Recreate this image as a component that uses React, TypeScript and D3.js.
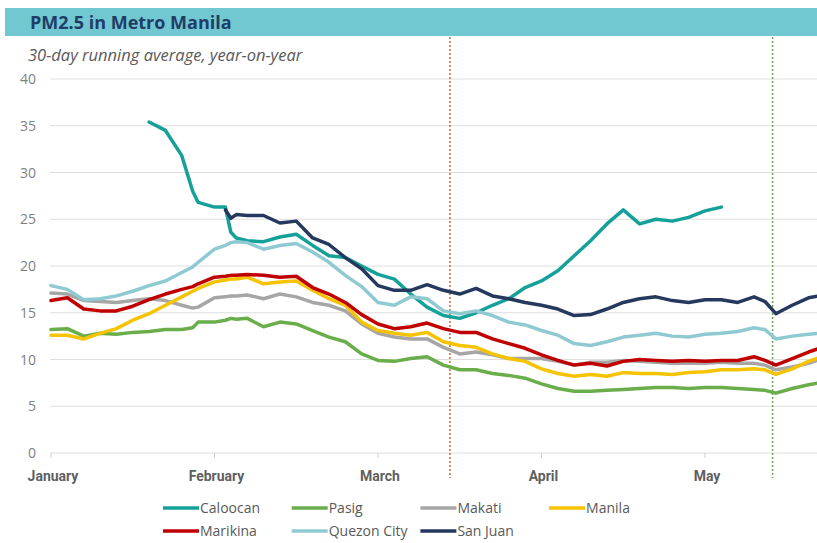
import React, { useEffect, useRef } from "react";
import { line, scaleLinear, select, Selection } from "d3";

const WIDTH = 817;
const HEIGHT = 543;
const PLOT_LEFT = 51;
const PLOT_RIGHT = 817;
const PLOT_TOP = 79;
const PLOT_BOTTOM = 453;
const STROKE_WIDTH = 3.5;
const FONT = "'Open Sans', 'Noto Sans', sans-serif";

// day index since Jan 1 (one month label every 30 days on the axis)
const DAYS = [
    0, 3, 6, 9, 12, 15, 18, 21, 24, 26, 27, 30, 32, 33, 34, 36, 39, 42, 45, 48, 51, 54, 57, 60, 63, 66, 69, 72,
    75, 78, 81, 84, 87, 90, 93, 96, 99, 102, 105, 108, 111, 114, 117, 120, 123, 126, 129, 131, 133, 136, 139, 141,
];

const MONTHS = ["January", "February", "March", "April", "May"];
const MONTH_DAYS = [0, 30, 60, 90, 120];
const Y_TICKS = [0, 5, 10, 15, 20, 25, 30, 35, 40];
const MARKER_DAYS = [73.2, 132.4];
const MARKER_COLORS = ["#c46a2a", "#6aa84f"];

type V = number | null;

const caloocan: V[] = [
    null, null, null, null, null, null, 35.4, 34.5, 31.8, 28.0, 26.8, 26.3, 26.3, 23.6, 23.0, 22.7, 22.6, 23.1,
    23.4, 22.2, 21.1, 20.9, 20.0, 19.1, 18.6, 17.0, 15.6, 14.7, 14.4, 15.0, 15.8, 16.5, 17.7, 18.4, 19.5, 21.1,
    22.7, 24.5, 26.0, 24.5, 25.0, 24.8, 25.2, 25.9, 26.3, null, null, null, null, null, null, null,
];
const pasig: V[] = [
    13.2, 13.3, 12.5, 12.8, 12.7, 12.9, 13.0, 13.2, 13.2, 13.4, 14.0, 14.0, 14.2, 14.4, 14.3, 14.4, 13.5, 14.0,
    13.8, 13.1, 12.4, 11.9, 10.6, 9.9, 9.8, 10.1, 10.3, 9.4, 8.9, 8.9, 8.5, 8.3, 8.0, 7.4, 6.9, 6.6, 6.6, 6.7,
    6.8, 6.9, 7.0, 7.0, 6.9, 7.0, 7.0, 6.9, 6.8, 6.7, 6.4, 6.9, 7.3, 7.5,
];
const makati: V[] = [
    17.1, 17.0, 16.3, 16.2, 16.1, 16.3, 16.5, 16.3, 15.8, 15.5, 15.6, 16.6, 16.7, 16.8, 16.8, 16.9, 16.5, 17.0,
    16.7, 16.1, 15.8, 15.2, 13.8, 12.8, 12.4, 12.2, 12.2, 11.3, 10.6, 10.8, 10.5, 10.1, 10.1, 10.1, 9.8, 9.4,
    9.7, 9.7, 9.9, 9.8, 9.7, 9.6, 9.6, 9.6, 9.7, 9.6, 9.6, 9.4, 8.9, 9.2, 9.6, 10.0,
];
const manila: V[] = [
    12.6, 12.6, 12.2, 12.8, 13.3, 14.2, 14.9, 15.8, 16.7, 17.3, 17.6, 18.3, 18.5, 18.6, 18.6, 18.8, 18.1, 18.3,
    18.4, 17.4, 16.5, 15.8, 14.0, 13.1, 12.8, 12.6, 12.9, 11.9, 11.5, 11.3, 10.6, 10.1, 9.8, 9.0, 8.5, 8.2, 8.4,
    8.2, 8.6, 8.5, 8.5, 8.4, 8.6, 8.7, 8.9, 8.9, 9.0, 8.9, 8.4, 9.0, 9.8, 10.2,
];
const marikina: V[] = [
    16.3, 16.6, 15.4, 15.2, 15.2, 15.7, 16.4, 17.0, 17.5, 17.8, 18.1, 18.8, 18.9, 19.0, 19.0, 19.1, 19.0, 18.8,
    18.9, 17.7, 17.0, 16.1, 14.8, 13.8, 13.3, 13.5, 13.9, 13.3, 12.9, 12.9, 12.2, 11.7, 11.2, 10.5, 9.9, 9.4,
    9.6, 9.3, 9.8, 10.0, 9.9, 9.8, 9.9, 9.8, 9.9, 9.9, 10.3, 9.9, 9.4, 10.1, 10.8, 11.2,
];
const quezonCity: V[] = [
    17.9, 17.5, 16.4, 16.5, 16.8, 17.3, 17.9, 18.4, 19.3, 19.9, 20.4, 21.8, 22.2, 22.5, 22.6, 22.5, 21.8, 22.2,
    22.4, 21.5, 20.4, 19.0, 17.8, 16.1, 15.8, 16.7, 16.5, 15.2, 14.9, 15.2, 14.7, 14.0, 13.7, 13.1, 12.6, 11.7,
    11.5, 11.9, 12.4, 12.6, 12.8, 12.5, 12.4, 12.7, 12.8, 13.0, 13.4, 13.2, 12.2, 12.5, 12.7, 12.8,
];
const sanJuan: V[] = [
    null, null, null, null, null, null, null, null, null, null, null, null, 26.0, 25.1, 25.5, 25.4, 25.4, 24.6,
    24.8, 23.0, 22.3, 20.9, 19.7, 17.9, 17.4, 17.4, 18.0, 17.4, 17.0, 17.6, 16.8, 16.5, 16.1, 15.8, 15.4, 14.7,
    14.8, 15.4, 16.1, 16.5, 16.7, 16.3, 16.1, 16.4, 16.4, 16.1, 16.7, 16.2, 14.9, 15.8, 16.6, 16.8,
];

type Series = { name: string; color: string; values: V[] };

const SERIES: Series[] = [
    { name: "Caloocan", color: "#15a199", values: caloocan },
    { name: "Pasig", color: "#6aad4b", values: pasig },
    { name: "Makati", color: "#a6a6a6", values: makati },
    { name: "Manila", color: "#f5c300", values: manila },
    { name: "Marikina", color: "#c00000", values: marikina },
    { name: "Quezon City", color: "#8fcad2", values: quezonCity },
    { name: "San Juan", color: "#25395f", values: sanJuan },
];

type G = Selection<SVGGElement, unknown, null, undefined>;

const xScale = scaleLinear()
    .domain([0, 140.55])
    .range([PLOT_LEFT, PLOT_RIGHT]);
const yScale = scaleLinear().domain([0, 40]).range([PLOT_BOTTOM, PLOT_TOP]);

export default function App() {
    const svgRef = useRef<SVGSVGElement>(null);

    useEffect(() => {
        const svgEl = select(svgRef.current);
        svgEl.selectAll("*").remove();
        const svg = svgEl.append("g");
        drawHeader(svg);
        drawGrid(svg);
        drawMarkers(svg);
        drawLines(svg);
        drawLegend(svg);
    }, []);

    return (
        <svg
            ref={svgRef}
            width={WIDTH}
            height={HEIGHT}
            style={{ position: "absolute", left: 0, top: 0, background: "#fff" }}
        />
    );
}

const drawHeader = (svg: G) => {
    svg.append("rect").attr("x", 5).attr("y", 8).attr("width", WIDTH - 5).attr("height", 28).attr("fill", "#72c8d1");
    svg.append("text")
        .attr("x", 30)
        .attr("y", 28.5)
        .attr("font-family", FONT)
        .attr("font-weight", 700)
        .attr("font-size", 18)
        .attr("fill", "#1f3d66")
        .text("PM2.5 in Metro Manila");
    svg.append("text")
        .attr("x", 28)
        .attr("y", 61)
        .attr("font-family", FONT)
        .attr("font-style", "italic")
        .attr("font-size", 16.5)
        .attr("fill", "#595959")
        .text("30-day running average, year-on-year");
};

const drawGrid = (svg: G) => {
    svg.selectAll(".grid")
        .data(Y_TICKS)
        .enter()
        .append("line")
        .attr("x1", PLOT_LEFT - 1)
        .attr("x2", PLOT_RIGHT)
        .attr("y1", d => yScale(d))
        .attr("y2", d => yScale(d))
        .attr("stroke", "#dedede")
        .attr("stroke-width", 1);

    svg.selectAll(".ylab")
        .data(Y_TICKS)
        .enter()
        .append("text")
        .attr("x", 36)
        .attr("y", d => yScale(d) + 5)
        .attr("text-anchor", "end")
        .attr("font-family", FONT)
        .attr("font-size", 14)
        .attr("fill", "#7f7f7f")
        .text(d => d);

    svg.selectAll(".xtick")
        .data(MONTH_DAYS)
        .enter()
        .append("line")
        .attr("x1", d => xScale(d))
        .attr("x2", d => xScale(d))
        .attr("y1", PLOT_BOTTOM)
        .attr("y2", PLOT_BOTTOM + 5)
        .attr("stroke", "#d0d0d0");

    svg.selectAll(".xlab")
        .data(MONTHS)
        .enter()
        .append("text")
        .attr("x", (_, i) => xScale(MONTH_DAYS[i]) + 2)
        .attr("y", 481)
        .attr("text-anchor", "middle")
        .attr("font-family", "'Liberation Sans Narrow', 'Roboto', sans-serif")
        .attr("font-weight", 700)
        .attr("font-size", 14)
        .attr("fill", "#5f5f5f")
        .text(d => d);
};

const drawMarkers = (svg: G) => {
    svg.selectAll(".marker")
        .data(MARKER_DAYS)
        .enter()
        .append("line")
        .attr("x1", d => xScale(d))
        .attr("x2", d => xScale(d))
        .attr("y1", 37)
        .attr("y2", 478)
        .attr("stroke", (_, i) => MARKER_COLORS[i])
        .attr("stroke-width", 1.5)
        .attr("stroke-dasharray", "2,2");
};

const drawLines = (svg: G) => {
    const lineFunc = line<V>()
        .defined(d => d !== null)
        .x((_, i) => xScale(DAYS[i]))
        .y(d => yScale(d as number));
    svg.selectAll(".series")
        .data(SERIES)
        .enter()
        .append("path")
        .attr("fill", "none")
        .attr("stroke", d => d.color)
        .attr("stroke-width", STROKE_WIDTH)
        .attr("stroke-linejoin", "round")
        .attr("stroke-linecap", "round")
        .attr("d", d => lineFunc(d.values));
};

const drawLegend = (svg: G) => {
    const items = svg
        .selectAll(".legend")
        .data(SERIES)
        .enter()
        .append("g")
        .attr("transform", (_, i) => `translate(${163 + (i % 4) * 128.7},${i < 4 ? 508 : 531})`);
    items.append("line")
        .attr("x1", 0)
        .attr("x2", 36)
        .attr("stroke", d => d.color)
        .attr("stroke-width", STROKE_WIDTH);
    items.append("text")
        .attr("x", 37)
        .attr("y", 5)
        .attr("font-family", FONT)
        .attr("font-size", 14)
        .attr("fill", "#595959")
        .text(d => d.name);
};
